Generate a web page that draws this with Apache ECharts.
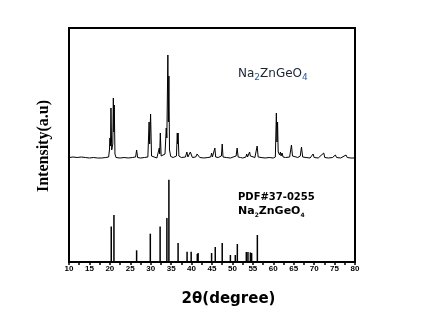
<!DOCTYPE html>
<html>
<head>
<meta charset="utf-8">
<script src="https://cdn.jsdelivr.net/npm/echarts@6/dist/echarts.min.js"></script>
<style>html,body{margin:0;padding:0;background:#fff}#c{width:422px;height:326px}</style>
</head>
<body>
<div id="c"></div>
<script>
// Measured XRD pattern (2θ, intensity a.u.)
const xrdAngles = [10.0,11.0,12.0,13.0,14.0,15.0,16.0,17.0,18.0,19.0,19.7,19.9,20.02,20.15,20.27,20.45,20.6,20.72,20.85,20.97,21.08,21.25,21.5,22.5,23.5,24.5,25.5,26.3,26.55,26.8,27.5,28.5,29.3,29.6,29.75,29.97,30.2,30.6,31.5,31.9,32.1,32.2,32.35,32.55,33.0,33.5,33.8,33.95,34.05,34.2,34.32,34.45,34.6,34.9,35.5,36.3,36.5,36.6,36.7,36.9,37.5,38.5,38.85,39.1,39.7,39.85,39.95,40.2,41.0,41.35,41.6,42.0,43.0,44.0,44.7,44.9,45.1,45.5,45.7,45.9,46.5,47.3,47.5,47.7,48.5,49.5,50.2,50.9,51.15,51.4,52.0,52.5,53.3,53.5,53.7,54.0,54.2,54.4,54.6,54.8,55.5,55.8,56.05,56.3,57.0,58.0,59.0,60.0,60.5,60.75,60.9,61.05,61.2,61.4,61.55,61.75,61.9,62.15,62.4,63.0,64.0,64.45,64.7,65.0,66.0,66.6,66.9,67.2,68.0,69.0,69.75,70.0,71.0,72.35,72.6,73.5,74.5,75.2,75.5,76.5,77.8,78.1,79.0,80.0];
const xrdIntensity = [104.5,105,104.5,105,104.5,104,104.5,104,104,104.5,105,112,124,116,154,112,110,118,164,130,157,108,104.5,104,104.5,104,104.5,105,112,104.5,104,104.5,105,140,118,148,106,104.5,104,106,114,108,129,106,105,108,134,124,122,207,140,186,112,105.5,104.5,106,129,118,129,106,104.5,105,110,105,110,108,110,104.5,105,108,106,104.5,104,104.5,105,109,105,106,114,105,104.5,106,118,105,104.5,104,105,106,114,105,104.5,104,105,108,105,106,110,106,108,105,104.5,106,116,105,104.5,104,104.5,104,105,149,120,140,110,112,107,110,106,109,105,104.5,105,117,106,105,104.5,106,115,105,104.5,104,108,104.5,104,109,104.5,104,104.5,107,104.5,104,107,104.5,104,104];

// Reference PDF#37-0255 stick pattern
const pdfAngles = [20.34,21.0,26.55,29.9,32.3,33.96,34.45,36.7,38.9,39.9,41.4,41.6,44.9,45.8,47.5,49.5,50.7,51.2,53.4,53.8,54.4,54.7,56.1];
const pdfIntensity = [35.6,47,11.7,28.3,35.6,44,82.3,19,10.3,10.3,8,9,9,15,19,7,7,18,10,10,9.6,9,27];

// Axis ticks
const xMin = 10, xMax = 80, xStep = 5;
const yMin = 0, yMax = 234;

const xrdData = xrdAngles.map((a, i) => [a, xrdIntensity[i]]);
const pdfData = pdfAngles.map((a, i) => [a, pdfIntensity[i]]);

const chart = echarts.init(document.getElementById('c'), null, {renderer: 'canvas'});
chart.setOption({
  animation: false,
  backgroundColor: '#ffffff',
  grid: {left: 69, right: 67, top: 28, bottom: 64, show: true, borderColor: '#000', borderWidth: 2, backgroundColor: 'transparent'},
  xAxis: {
    type: 'value', min: xMin, max: xMax, interval: xStep,
    axisLine: {show: true, lineStyle: {color: '#000', width: 2}},
    axisTick: {show: true, length: 3, lineStyle: {color: '#000', width: 1.5}},
    minorTick: {show: true, splitNumber: 2, length: 3, lineStyle: {color: '#000', width: 1.5}},
    splitLine: {show: false},
    axisLabel: {color: '#000', fontSize: 8, fontWeight: 'bold', fontFamily: 'Liberation Sans', margin: 3}
  },
  yAxis: {
    type: 'value', min: yMin, max: yMax,
    axisLine: {show: true, lineStyle: {color: '#000', width: 2}},
    axisTick: {show: false}, axisLabel: {show: false}, splitLine: {show: false}
  },
  series: [
    {type: 'line', data: xrdData, symbol: 'none', lineStyle: {color: '#000', width: 1}, z: 3},
    {type: 'bar', data: pdfData, barWidth: 1.5, itemStyle: {color: '#000'}, z: 3}
  ],
  graphic: [
    {type: 'text', x: 238, y: 74, z: 10, style: {
      text: '{m|Na}{s|2}{m|ZnGeO}{s|4}', align: 'left', verticalAlign: 'middle', textAlign: 'left', textVerticalAlign: 'middle',
      rich: {
        m: {fontFamily: 'DejaVu Sans', fontSize: 12, fill: '#1c2233', color: '#1c2233'},
        s: {fontFamily: 'DejaVu Sans', fontSize: 9, fill: '#2a5a9a', color: '#2a5a9a', padding: [8, 0, 0, 0]}
      }}},
    {type: 'text', x: 238, y: 197.5, z: 10, style: {
      text: 'PDF#37-0255', fontFamily: 'DejaVu Sans', fontSize: 10, fontWeight: 'bold', fill: '#000',
      align: 'left', verticalAlign: 'middle', textAlign: 'left', textVerticalAlign: 'middle'}},
    {type: 'text', x: 238, y: 211.5, z: 10, style: {
      text: '{m|Na}{s|2}{m|ZnGeO}{s|4}', align: 'left', verticalAlign: 'middle', textAlign: 'left', textVerticalAlign: 'middle',
      rich: {
        m: {fontFamily: 'DejaVu Sans', fontSize: 11, fontWeight: 'bold', fill: '#000', color: '#000'},
        s: {fontFamily: 'DejaVu Sans', fontSize: 6, fontWeight: 'bold', fill: '#000', color: '#000', padding: [7, 0, 0, 0]}
      }}},
    {type: 'text', x: 228.5, y: 299, z: 10, style: {
      text: '2θ(degree)', fontFamily: 'DejaVu Sans', fontSize: 15, fontWeight: 'bold', fill: '#000',
      align: 'center', verticalAlign: 'middle', textAlign: 'center', textVerticalAlign: 'middle'}},
    {type: 'text', x: 43.5, y: 146, rotation: Math.PI / 2, z: 10, style: {
      text: 'Intensity(a.u)', fontFamily: 'Liberation Serif', fontSize: 16, fontWeight: 'bold', fill: '#000',
      align: 'center', verticalAlign: 'middle', textAlign: 'center', textVerticalAlign: 'middle'}}
  ]
});
</script>
</body>
</html>
